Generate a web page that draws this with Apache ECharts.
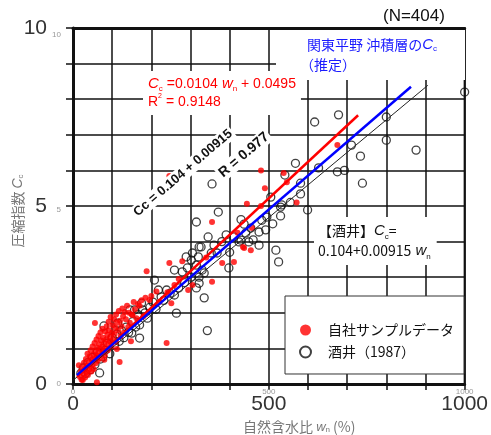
<!DOCTYPE html>
<html>
<head>
<meta charset="utf-8">
<script src="https://cdn.jsdelivr.net/npm/echarts@6/dist/echarts.min.js"></script>
<style>
html, body { margin: 0; padding: 0; background: #fff; }
#chart { width: 491px; height: 435px; }
</style>
</head>
<body>
<div id="chart"></div>
<script>
// tick labels that are printed
var xTicks = [0, 500, 1000];
var yTicks = [0, 5, 10];

// 自社サンプルデータ (wn %, Cc)
var ownData = [
    [15,0.53],[18,0.2],[20,0.35],[22,0.12],[24,0.45],[25,0.11],[27,0.28],[28,0.6],[30,0.42],[31,0.18],
    [33,0.7],[34,0.33],[36,0.52],[37,0.85],[38,0.25],[40,0.62],[41,0.4],[43,0.78],[44,0.5],[45,0.95],
    [47,0.35],[48,0.68],[50,0.55],[50,1.05],[52,0.82],[53,0.42],[55,0.7],[55,1.15],[56,1.71],[57,0.93],
    [58,0.58],[60,1.25],[60,0.8],[61,0.05],[62,1.02],[63,0.65],[65,0.88],[65,1.35],[67,1.12],[68,0.72],
    [70,0.98],[70,1.45],[72,1.22],[73,0.82],[75,1.05],[75,1.55],[77,1.3],[78,0.9],[80,1.15],[80,0.68],
    [81,0.81],[82,1.48],[84,1.0],[85,1.25],[86,1.62],[88,1.38],[89,0.95],[90,1.12],[91,1.75],[92,1.5],
    [94,1.2],[95,1.32],[96,1.88],[98,1.05],[100,1.45],[101,1.65],[103,1.25],[105,1.82],[106,1.4],[108,1.58],
    [110,1.18],[110,1.95],[112,0.98],[113,1.72],[115,1.5],[117,2.05],[119,0.62],[120,1.78],[122,1.35],[124,1.62],
    [126,2.12],[128,1.9],[130,1.45],[132,2.02],[135,1.82],[138,2.2],[141,1.6],[143,2.0],[145,1.72],[148,1.2],
    [150,1.95],[152,1.94],[155,2.3],[158,2.1],[162,1.85],[166,2.25],[170,2.2],[175,2.35],[180,1.9],[185,2.42],
    [195,2.36],[200,2.47],[213,2.6],[220,2.3],[239,1.15],[241,2.58],[246,3.4],[251,2.27],[259,2.78],[188,3.17],
    [279,3.45],[294,2.64],[305,2.78],[355,2.87],[381,3.4],[411,3.43],[355,4.55],[434,3.85],[437,3.82],[454,3.76],
    [457,4.38],[444,5.06],[480,5.0],[246,5.84],[490,5.5],[480,6.0],[538,5.93],[546,5.67],[571,5.1],[675,6.71],
    [270,2.95],[340,3.55],[420,4.25]
];

// 酒井 (1987)
var sakaiData = [
    [20,0.3],[26,0.45],[32,0.3],[38,0.6],[44,0.4],[50,0.75],[56,0.55],[62,0.9],[68,0.31],[70,0.7],
    [76,0.76],[79,1.63],[82,0.95],[88,1.15],[94,0.85],[100,1.3],[106,1.1],[112,1.4],[114,1.71],[118,1.2],
    [124,1.5],[130,1.3],[136,1.6],[142,1.45],[145,2.08],[150,1.43],[152,1.75],[157,2.08],[160,1.6],[166,1.95],
    [170,1.29],[170,1.66],[175,2.27],[178,2.08],[184,2.0],[190,1.85],[196,2.15],[204,2.3],[208,2.92],[212,2.1],
    [218,2.64],[225,2.45],[232,2.35],[239,2.64],[248,2.55],[259,3.2],[259,2.5],[264,1.99],[270,2.7],[279,3.15],
    [285,2.85],[292,3.26],[302,3.0],[302,3.48],[315,3.34],[315,2.7],[320,3.57],[322,3.0],[322,2.83],[330,3.2],
    [335,3.12],[335,2.42],[343,1.5],[289,3.57],[305,3.68],[322,3.85],[327,3.85],[353,3.68],[368,3.68],[345,4.13],
    [315,4.55],[355,5.62],[371,4.83],[391,4.19],[398,3.26],[411,4.13],[424,3.99],[429,4.04],[429,4.62],[437,4.49],
    [441,4.24],[449,3.99],[454,4.38],[475,4.27],[482,4.6],[492,4.33],[495,4.69],[505,5.25],[518,3.76],[525,3.43],
    [530,4.97],[530,4.72],[533,5.03],[541,5.87],[568,6.2],[581,5.64],[581,5.34],[599,4.89],[617,7.36],[627,6.07],
    [675,5.96],[678,7.56],[693,6.0],[711,6.71],[734,6.4],[739,5.64],[800,7.5],[800,6.85],[876,6.57],[1000,8.2],
    [360,3.9],[380,4.0],[400,3.7],[460,4.05],[510,4.5],[555,5.1],[475,3.9]
];

// lines: end points (wn, Cc)
var ownFit = [[10, 0.2], [728, 7.55]];
var kantoLine = [[10, 0.25], [863, 8.35]];
var sakaiLine = [[0, 0.104], [906, 8.39]];

function pick(list) {
    return function (v) { return list.indexOf(v) >= 0 ? String(v) : ''; };
}

var chart = echarts.init(document.getElementById('chart'));
var lineCol = '#111';

chart.setOption({
    animation: false,
    grid: { left: 73, right: 24, top: 28, bottom: 51, show: true, borderColor: lineCol, borderWidth: 2 },
    xAxis: [{
        type: 'value', min: 0, max: 1000, interval: 100,
        axisLine: { show: true, onZero: false, lineStyle: { color: lineCol, width: 3 } },
        axisTick: { show: true, length: 6, lineStyle: { color: lineCol, width: 1.5 } },
        splitLine: { show: true, lineStyle: { color: lineCol, width: 1.5 } },
        axisLabel: { formatter: pick(xTicks), fontSize: 21, color: '#333', margin: 10, fontFamily: 'Liberation Sans' }
    }, {
        type: 'value', min: 0, max: 1000, interval: 100, position: 'bottom',
        axisLine: { show: false }, axisTick: { show: false }, splitLine: { show: false },
        axisLabel: { formatter: pick(xTicks), fontSize: 8, color: '#999', margin: 4, fontFamily: 'Liberation Sans' }
    }, {
        type: 'value', min: 0, max: 1000, interval: 100, position: 'top',
        axisLine: { show: true, onZero: false, lineStyle: { color: lineCol, width: 3 } },
        axisTick: { show: false }, splitLine: { show: false }, axisLabel: { show: false }
    }],
    yAxis: [{
        type: 'value', min: 0, max: 10, interval: 1,
        axisLine: { show: true, onZero: false, lineStyle: { color: lineCol, width: 3 } },
        axisTick: { show: true, length: 7, lineStyle: { color: lineCol, width: 1.5 } },
        splitLine: { show: true, lineStyle: { color: lineCol, width: 1.5 } },
        axisLabel: { formatter: pick(yTicks), fontSize: 21, color: '#333', margin: 26, fontFamily: 'Liberation Sans' }
    }, {
        type: 'value', min: 0, max: 10.2, interval: 1, position: 'left',
        axisLine: { show: false }, axisTick: { show: false }, splitLine: { show: false },
        axisLabel: { formatter: pick(yTicks), fontSize: 8, color: '#999', margin: 12, fontFamily: 'Liberation Sans' }
    }],
    legend: {
        orient: 'vertical', left: 285, top: 296,
        backgroundColor: '#fff', borderColor: '#333', borderWidth: 1,
        padding: [27, 10, 15, 14], itemGap: 8, itemWidth: 11, itemHeight: 11,
        textStyle: { fontSize: 14, color: '#111', fontFamily: 'Noto Sans CJK JP', padding: [0, 0, 0, 12] },
        data: ['自社サンプルデータ', '酒井（1987）']
    },
    series: [{
        name: '酒井（1987）', type: 'scatter', data: sakaiData, symbolSize: 8,
        itemStyle: { color: 'rgba(255,255,255,0)', borderColor: '#111', borderWidth: 1.3 }
    }, {
        name: '自社サンプルデータ', type: 'scatter', data: ownData, symbolSize: 6,
        itemStyle: { color: '#ff0000' }
    }, {
        type: 'line', data: sakaiLine, symbol: 'none', silent: true,
        lineStyle: { color: '#222', width: 1 }
    }, {
        type: 'line', data: ownFit, symbol: 'none', silent: true,
        lineStyle: { color: '#ff0000', width: 2.5 }
    }, {
        type: 'line', data: kantoLine, symbol: 'none', silent: true,
        lineStyle: { color: '#0000ff', width: 2.5 }
    }],
    graphic: [{
        // blank corner behind the blue caption
        type: 'rect', z: 1, shape: { x: 276, y: 30, width: 189, height: 50 },
        style: { fill: '#fff' }
    }, {
        type: 'text', x: 383, y: 16, z: 3,
        style: { text: '(N=404)', fontSize: 17, fontFamily: 'Liberation Sans', fill: '#111', verticalAlign: 'middle' }
    }, {
        type: 'text', x: 307, y: 45, z: 3,
        style: {
            text: '関東平野 沖積層の{i|C}{s|c}', fontSize: 14, fontFamily: 'Noto Sans CJK JP', fill: '#1a1aff', verticalAlign: 'middle',
            rich: { i: { fontStyle: 'italic', fontSize: 15, fontFamily: 'Liberation Sans', fill: '#1a1aff' }, s: { fontSize: 8, verticalAlign: 'bottom', fill: '#1a1aff' } }
        }
    }, {
        type: 'text', x: 300, y: 65, z: 3,
        style: { text: '（推定）', fontSize: 14, fontFamily: 'Noto Sans CJK JP', fill: '#1a1aff', verticalAlign: 'middle' }
    }, {
        type: 'text', x: 143, y: 93, z: 3,
        style: {
            text: '{i|C}{s|c} =0.0104{i| w}{s|n} + 0.0495\nR{p|2} = 0.9148', fontSize: 14, lineHeight: 18,
            fontFamily: 'Liberation Sans', fill: '#ff0000', verticalAlign: 'middle',
            backgroundColor: '#fff', padding: [4, 5, 4, 5],
            rich: {
                i: { fontStyle: 'italic', fontSize: 15, fill: '#ff0000' },
                s: { fontSize: 8, verticalAlign: 'bottom', fill: '#ff0000' },
                p: { fontSize: 7, verticalAlign: 'top', fill: '#ff0000' }
            }
        }
    }, {
        type: 'text', x: 183, y: 173, rotation: 0.71, z: 3,
        style: {
            text: 'Cc = 0.104 + 0.00915', fontSize: 13, fontWeight: 'bold', fontFamily: 'Liberation Sans', fill: '#111',
            align: 'center', verticalAlign: 'middle', backgroundColor: '#fff', padding: [1, 2, 1, 2]
        }
    }, {
        type: 'text', x: 244, y: 155, rotation: 0.71, z: 3,
        style: {
            text: 'R = 0.977', fontSize: 14, fontWeight: 'bold', fontFamily: 'Liberation Sans', fill: '#111',
            align: 'center', verticalAlign: 'middle', backgroundColor: '#fff', padding: [1, 2, 1, 2]
        }
    }, {
        type: 'text', x: 314, y: 241, z: 3,
        style: {
            text: '【酒井】{i|C}{s|c}=\n0.104+0.00915{i| w}{s|n}', fontSize: 14, lineHeight: 20,
            fontFamily: 'Noto Sans CJK JP', fill: '#111', verticalAlign: 'middle',
            backgroundColor: '#fff', padding: [4, 6, 4, 4],
            rich: {
                i: { fontStyle: 'italic', fontSize: 15, fontFamily: 'Liberation Sans', fill: '#111' },
                s: { fontSize: 8, verticalAlign: 'bottom', fill: '#111' }
            }
        }
    }, {
        type: 'text', x: 18, y: 211, rotation: Math.PI / 2,
        style: {
            text: '圧縮指数 {i|C}{s|c}', fontSize: 14, fontFamily: 'Noto Sans CJK JP', fill: '#777', align: 'center', verticalAlign: 'middle',
            rich: { i: { fontStyle: 'italic', fontSize: 14, fontFamily: 'Liberation Sans', fill: '#777' }, s: { fontSize: 8, verticalAlign: 'bottom', fill: '#777' } }
        }
    }, {
        type: 'text', x: 243, y: 427,
        style: {
            text: '自然含水比 {i|w}{s|n} (%)', fontSize: 14, fontFamily: 'Noto Sans CJK JP', fill: '#777', verticalAlign: 'middle',
            rich: { i: { fontStyle: 'italic', fontSize: 13, fontFamily: 'Liberation Sans', fill: '#777' }, s: { fontSize: 8, verticalAlign: 'bottom', fill: '#777' } }
        }
    }]
});
</script>
</body>
</html>
